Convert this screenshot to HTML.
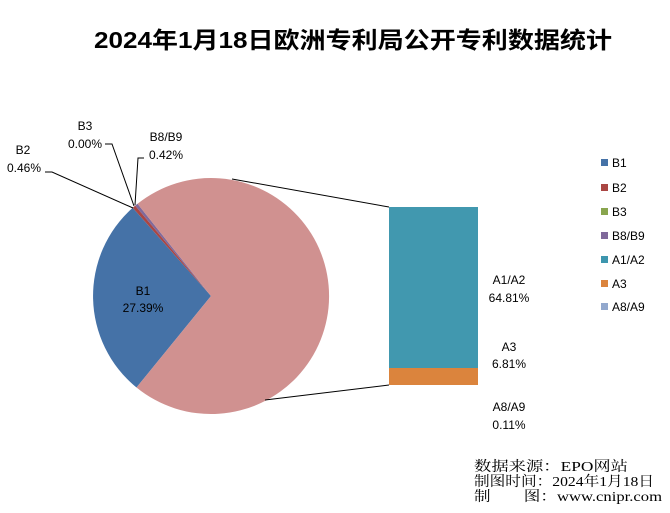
<!DOCTYPE html>
<html><head><meta charset="utf-8"><style>
body{margin:0;background:#fff;}
svg text{font-family:"Liberation Sans","Noto Sans CJK SC",sans-serif;}
</style></head><body>
<svg width="670" height="508" viewBox="0 0 670 508" xmlns="http://www.w3.org/2000/svg">
<rect width="670" height="508" fill="#fff"/>
<text x="353" y="48" text-anchor="middle" font-size="23" font-weight="bold" fill="#000" textLength="518" lengthAdjust="spacingAndGlyphs">2024年1月18日欧洲专利局公开专利数据统计</text>
<path d="M211,296 L136.5,387.5 A118,118 0 0 1 132.7,207.8 Z" fill="#4572a7"/>
<path d="M211,296 L132.7,207.8 A118,118 0 0 1 135.2,205.6 Z" fill="#aa4643"/>
<path d="M211,296 L135.2,205.6 A118,118 0 0 1 137.5,203.8 Z" fill="#80699b"/>
<path d="M211,296 L137.5,203.8 A118,118 0 1 1 136.5,387.5 Z" fill="#d09190"/>
<g stroke="#000" stroke-width="1" fill="none">
<line x1="232" y1="179" x2="389" y2="207"/>
<line x1="265" y1="400" x2="389" y2="385"/>
<polyline points="45,172 52,172 133,208"/>
<polyline points="105,144 112,144 134,206"/>
<polyline points="144,158 138,158 135,205"/>
</g>
<rect x="389" y="207" width="89" height="161" fill="#4198af"/>
<rect x="389" y="368" width="89" height="17" fill="#db843d"/>
<g font-size="12" fill="#000" text-anchor="middle">
<text x="23" y="154">B2</text><text x="24" y="172">0.46%</text>
<text x="85" y="130">B3</text><text x="85" y="148">0.00%</text>
<text x="166" y="141">B8/B9</text><text x="166" y="159">0.42%</text>
<text x="143" y="295">B1</text><text x="143" y="312">27.39%</text>
<text x="509" y="284">A1/A2</text><text x="509" y="302">64.81%</text>
<text x="509" y="351">A3</text><text x="509" y="368">6.81%</text>
<text x="509" y="411">A8/A9</text><text x="509" y="429">0.11%</text>
</g>
<g font-size="12" fill="#000">
<rect x="601" y="159" width="7" height="7" fill="#4572a7"/><text x="612" y="167">B1</text>
<rect x="601" y="184" width="7" height="7" fill="#aa4643"/><text x="612" y="192">B2</text>
<rect x="601" y="208" width="7" height="7" fill="#89a54e"/><text x="612" y="216">B3</text>
<rect x="601" y="232" width="7" height="7" fill="#80699b"/><text x="612" y="240">B8/B9</text>
<rect x="601" y="256" width="7" height="7" fill="#3d96ae"/><text x="612" y="264">A1/A2</text>
<rect x="601" y="280" width="7" height="7" fill="#db843d"/><text x="612" y="288">A3</text>
<rect x="601" y="303" width="7" height="7" fill="#92a8cd"/><text x="612" y="311">A8/A9</text>
</g>
<g font-size="14" fill="#000">
<text x="474" y="471" style="font-family:'Liberation Serif','Noto Serif CJK SC',serif" textLength="154" lengthAdjust="spacingAndGlyphs">数据来源：EPO网站</text>
<text x="474" y="486" style="font-family:'Liberation Serif','Noto Serif CJK SC',serif" textLength="180" lengthAdjust="spacingAndGlyphs">制图时间：2024年1月18日</text>
<text x="474" y="501" style="font-family:'Liberation Serif','Noto Serif CJK SC',serif" textLength="188" lengthAdjust="spacingAndGlyphs">制　　图：www.cnipr.com</text>
</g>
</svg>
</body></html>
